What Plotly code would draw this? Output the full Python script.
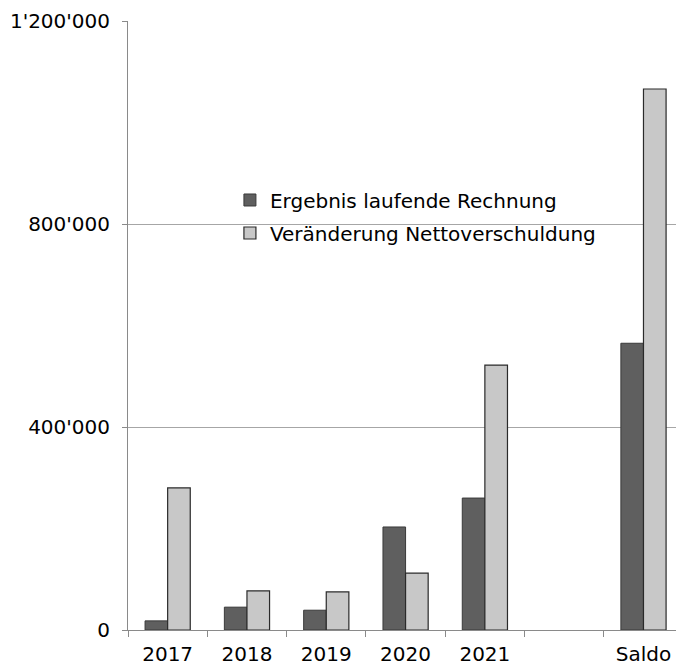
import plotly.graph_objects as go

categories = ["2017", "2018", "2019", "2020", "2021", " ", "Saldo"]
ergebnis = [18000, 45000, 39000, 203000, 260000, None, 565000]
nettoverschuldung = [280000, 77000, 75000, 112000, 522000, None, 1066000]
y_tickvals = [0, 400000, 800000, 1200000]
y_ticktext = ["0", "400'000", "800'000", "1'200'000"]

font_family = "DejaVu Sans, Verdana, sans-serif"

fig = go.Figure()
fig.add_trace(go.Bar(
    x=categories, y=ergebnis, name="Ergebnis laufende Rechnung",
    legendgroup="a",
    marker=dict(color="#5f5f5f", line=dict(color="#3a3a3a", width=1)),
))
fig.add_trace(go.Bar(
    x=categories, y=nettoverschuldung, name="Veränderung Nettoverschuldung",
    legendgroup="b",
    marker=dict(color="#c8c8c8", line=dict(color="#2a2a2a", width=1.2)),
))

fig.update_layout(
    width=676, height=666,
    margin=dict(l=128, r=0, t=21, b=36),
    paper_bgcolor="white", plot_bgcolor="white",
    barmode="group", bargap=0.43, bargroupgap=0,
    font=dict(family=font_family, size=20, color="black"),
    showlegend=True,
    legend=dict(
        x=0.186, y=0.679, xanchor="left", yanchor="middle",
        bgcolor="rgba(0,0,0,0)", font=dict(size=20),
        itemwidth=30, tracegroupgap=4,
    ),
)
fig.update_xaxes(
    type="category", categoryorder="array", categoryarray=categories,
    range=[-0.5, 6.41],
    showline=True, linecolor="#8a8a8a", linewidth=1,
    ticks="outside", ticklen=6, tickcolor="#8a8a8a", tickson="boundaries",
    showgrid=False, tickfont=dict(size=20), ticklabelstandoff=6,
)
fig.update_yaxes(
    range=[0, 1200000], tickvals=y_tickvals, ticktext=y_ticktext,
    showline=True, linecolor="#8a8a8a", linewidth=1,
    ticks="outside", ticklen=5, tickcolor="#8a8a8a",
    showgrid=True, gridcolor="#a6a6a6", gridwidth=1,
    zeroline=False, tickfont=dict(size=20), ticklabelstandoff=8,
)

fig.write_html("out.html")
